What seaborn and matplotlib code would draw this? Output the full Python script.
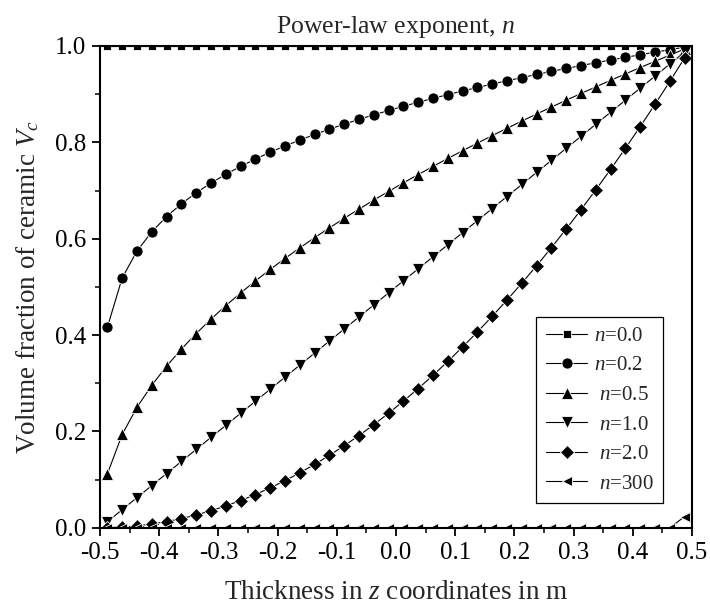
import matplotlib
matplotlib.use("Agg")
import matplotlib.pyplot as plt
import seaborn as sns
from matplotlib.ticker import MultipleLocator

# ---------------- data ----------------
z = [-0.4875, -0.4625, -0.4375, -0.4125, -0.3875, -0.3625, -0.3375, -0.3125,
     -0.2875, -0.2625, -0.2375, -0.2125, -0.1875, -0.1625, -0.1375, -0.1125,
     -0.0875, -0.0625, -0.0375, -0.0125, 0.0125, 0.0375, 0.0625, 0.0875,
     0.1125, 0.1375, 0.1625, 0.1875, 0.2125, 0.2375, 0.2625, 0.2875,
     0.3125, 0.3375, 0.3625, 0.3875, 0.4125, 0.4375, 0.4625, 0.4875]

vc_n0_0 = [1.0, 1.0, 1.0, 1.0, 1.0, 1.0, 1.0, 1.0, 1.0, 1.0,
           1.0, 1.0, 1.0, 1.0, 1.0, 1.0, 1.0, 1.0, 1.0, 1.0,
           1.0, 1.0, 1.0, 1.0, 1.0, 1.0, 1.0, 1.0, 1.0, 1.0,
           1.0, 1.0, 1.0, 1.0, 1.0, 1.0, 1.0, 1.0, 1.0, 1.0]

vc_n0_2 = [0.4163, 0.5186, 0.5743, 0.6143, 0.6460, 0.6724, 0.6953, 0.7155,
           0.7336, 0.7501, 0.7653, 0.7794, 0.7925, 0.8047, 0.8163, 0.8273,
           0.8377, 0.8476, 0.8571, 0.8661, 0.8749, 0.8832, 0.8913, 0.8991,
           0.9066, 0.9139, 0.9210, 0.9278, 0.9344, 0.9409, 0.9472, 0.9533,
           0.9593, 0.9652, 0.9709, 0.9764, 0.9818, 0.9872, 0.9924, 0.9975]

vc_n0_5 = [0.1118, 0.1936, 0.2500, 0.2958, 0.3354, 0.3708, 0.4031, 0.4330,
           0.4610, 0.4873, 0.5123, 0.5362, 0.5590, 0.5809, 0.6021, 0.6225,
           0.6423, 0.6614, 0.6801, 0.6982, 0.7159, 0.7331, 0.7500, 0.7665,
           0.7826, 0.7984, 0.8139, 0.8292, 0.8441, 0.8588, 0.8732, 0.8874,
           0.9014, 0.9151, 0.9287, 0.9421, 0.9552, 0.9682, 0.9811, 0.9937]

vc_n1_0 = [0.0125, 0.0375, 0.0625, 0.0875, 0.1125, 0.1375, 0.1625, 0.1875,
           0.2125, 0.2375, 0.2625, 0.2875, 0.3125, 0.3375, 0.3625, 0.3875,
           0.4125, 0.4375, 0.4625, 0.4875, 0.5125, 0.5375, 0.5625, 0.5875,
           0.6125, 0.6375, 0.6625, 0.6875, 0.7125, 0.7375, 0.7625, 0.7875,
           0.8125, 0.8375, 0.8625, 0.8875, 0.9125, 0.9375, 0.9625, 0.9875]

vc_n2_0 = [0.0002, 0.0014, 0.0039, 0.0077, 0.0127, 0.0189, 0.0264, 0.0352,
           0.0452, 0.0564, 0.0689, 0.0827, 0.0977, 0.1139, 0.1314, 0.1502,
           0.1702, 0.1914, 0.2139, 0.2377, 0.2627, 0.2889, 0.3164, 0.3452,
           0.3752, 0.4064, 0.4389, 0.4727, 0.5077, 0.5439, 0.5814, 0.6202,
           0.6602, 0.7014, 0.7439, 0.7877, 0.8327, 0.8789, 0.9264, 0.9752]

vc_n300 = [0.0, 0.0, 0.0, 0.0, 0.0, 0.0, 0.0, 0.0, 0.0, 0.0,
           0.0, 0.0, 0.0, 0.0, 0.0, 0.0, 0.0, 0.0, 0.0, 0.0,
           0.0, 0.0, 0.0, 0.0, 0.0, 0.0, 0.0, 0.0, 0.0, 0.0,
           0.0, 0.0, 0.0, 0.0, 0.0, 0.0, 0.0, 0.0, 0.0, 0.023]

series_values = [vc_n0_0, vc_n0_2, vc_n0_5, vc_n1_0, vc_n2_0, vc_n300]
series_labels = [r"$n$=0.0", r"$n$=0.2", r" $n$=0.5", r" $n$=1.0", r" $n$=2.0", r" $n$=300"]
series_markers = ["s", "o", "^", "v", "D", "<"]
series_msize = [6, 8, 8.5, 8.5, 6.8, 7]

x_ticks = [-0.5, -0.4, -0.3, -0.2, -0.1, 0.0, 0.1, 0.2, 0.3, 0.4, 0.5]
x_ticklabels = ["-0.5", "-0.4", "-0.3", "-0.2", "-0.1", "0.0", "0.1", "0.2", "0.3", "0.4", "0.5"]
y_ticks = [0.0, 0.2, 0.4, 0.6, 0.8, 1.0]
y_ticklabels = ["0.0", "0.2", "0.4", "0.6", "0.8", "1.0"]

# ---------------- style ----------------
sns.set_style("ticks")
plt.rcParams["font.family"] = ["Liberation Serif", "DejaVu Serif"]
plt.rcParams["mathtext.fontset"] = "custom"
plt.rcParams["mathtext.rm"] = "Liberation Serif"
plt.rcParams["mathtext.it"] = "Liberation Serif:italic"
plt.rcParams["mathtext.bf"] = "Liberation Serif:bold"
plt.rcParams["axes.unicode_minus"] = False

fig = plt.figure(figsize=(7.1, 6.1), dpi=100)
ax = fig.add_axes([100 / 710, 1 - 527.7 / 610, 592 / 710, 481.7 / 610])

for vals, lab, mk, ms in zip(series_values, series_labels, series_markers, series_msize):
    sns.lineplot(x=z, y=vals, ax=ax, color="black", linewidth=0.8,
                 marker=mk, markersize=ms, markeredgecolor="white",
                 markeredgewidth=0.6, label=lab, estimator=None, sort=False)

ax.set_xlim(-0.5, 0.5)
ax.set_ylim(0.0, 1.0)
ax.set_xticks(x_ticks)
ax.set_xticklabels(x_ticklabels)
ax.set_yticks(y_ticks)
ax.set_yticklabels(y_ticklabels)
ax.xaxis.set_minor_locator(MultipleLocator(0.05))
ax.yaxis.set_minor_locator(MultipleLocator(0.1))
ax.tick_params(axis="both", which="major", direction="out", length=6, width=1.3,
               labelsize=18, pad=4, colors="black")
ax.tick_params(axis="both", which="minor", direction="out", length=3.5, width=1.3)
ax.tick_params(top=False, right=False, which="both")

for sp in ax.spines.values():
    sp.set_visible(True)
    sp.set_linewidth(1.5)
    sp.set_color("black")

ax.set_title(r"Power-law exponent, $n$", fontsize=18.5, pad=9)
ax.set_xlabel(r"Thickness in $z$ coordinates in m", fontsize=19.5, labelpad=12)
ax.set_ylabel(r"Volume fraction of ceramic $V_c$", fontsize=19.5, labelpad=10)

handles, labels = ax.get_legend_handles_labels()
leg = ax.legend(handles, labels, loc="lower right", bbox_to_anchor=(0.951, 0.051),
                fontsize=15, frameon=True, fancybox=False, edgecolor="black",
                framealpha=1, borderpad=0.45, labelspacing=0.48, handlelength=2.0,
                handletextpad=0.3, borderaxespad=0)
leg.get_frame().set_linewidth(0.9)

fig.savefig("out.png", dpi=100)
